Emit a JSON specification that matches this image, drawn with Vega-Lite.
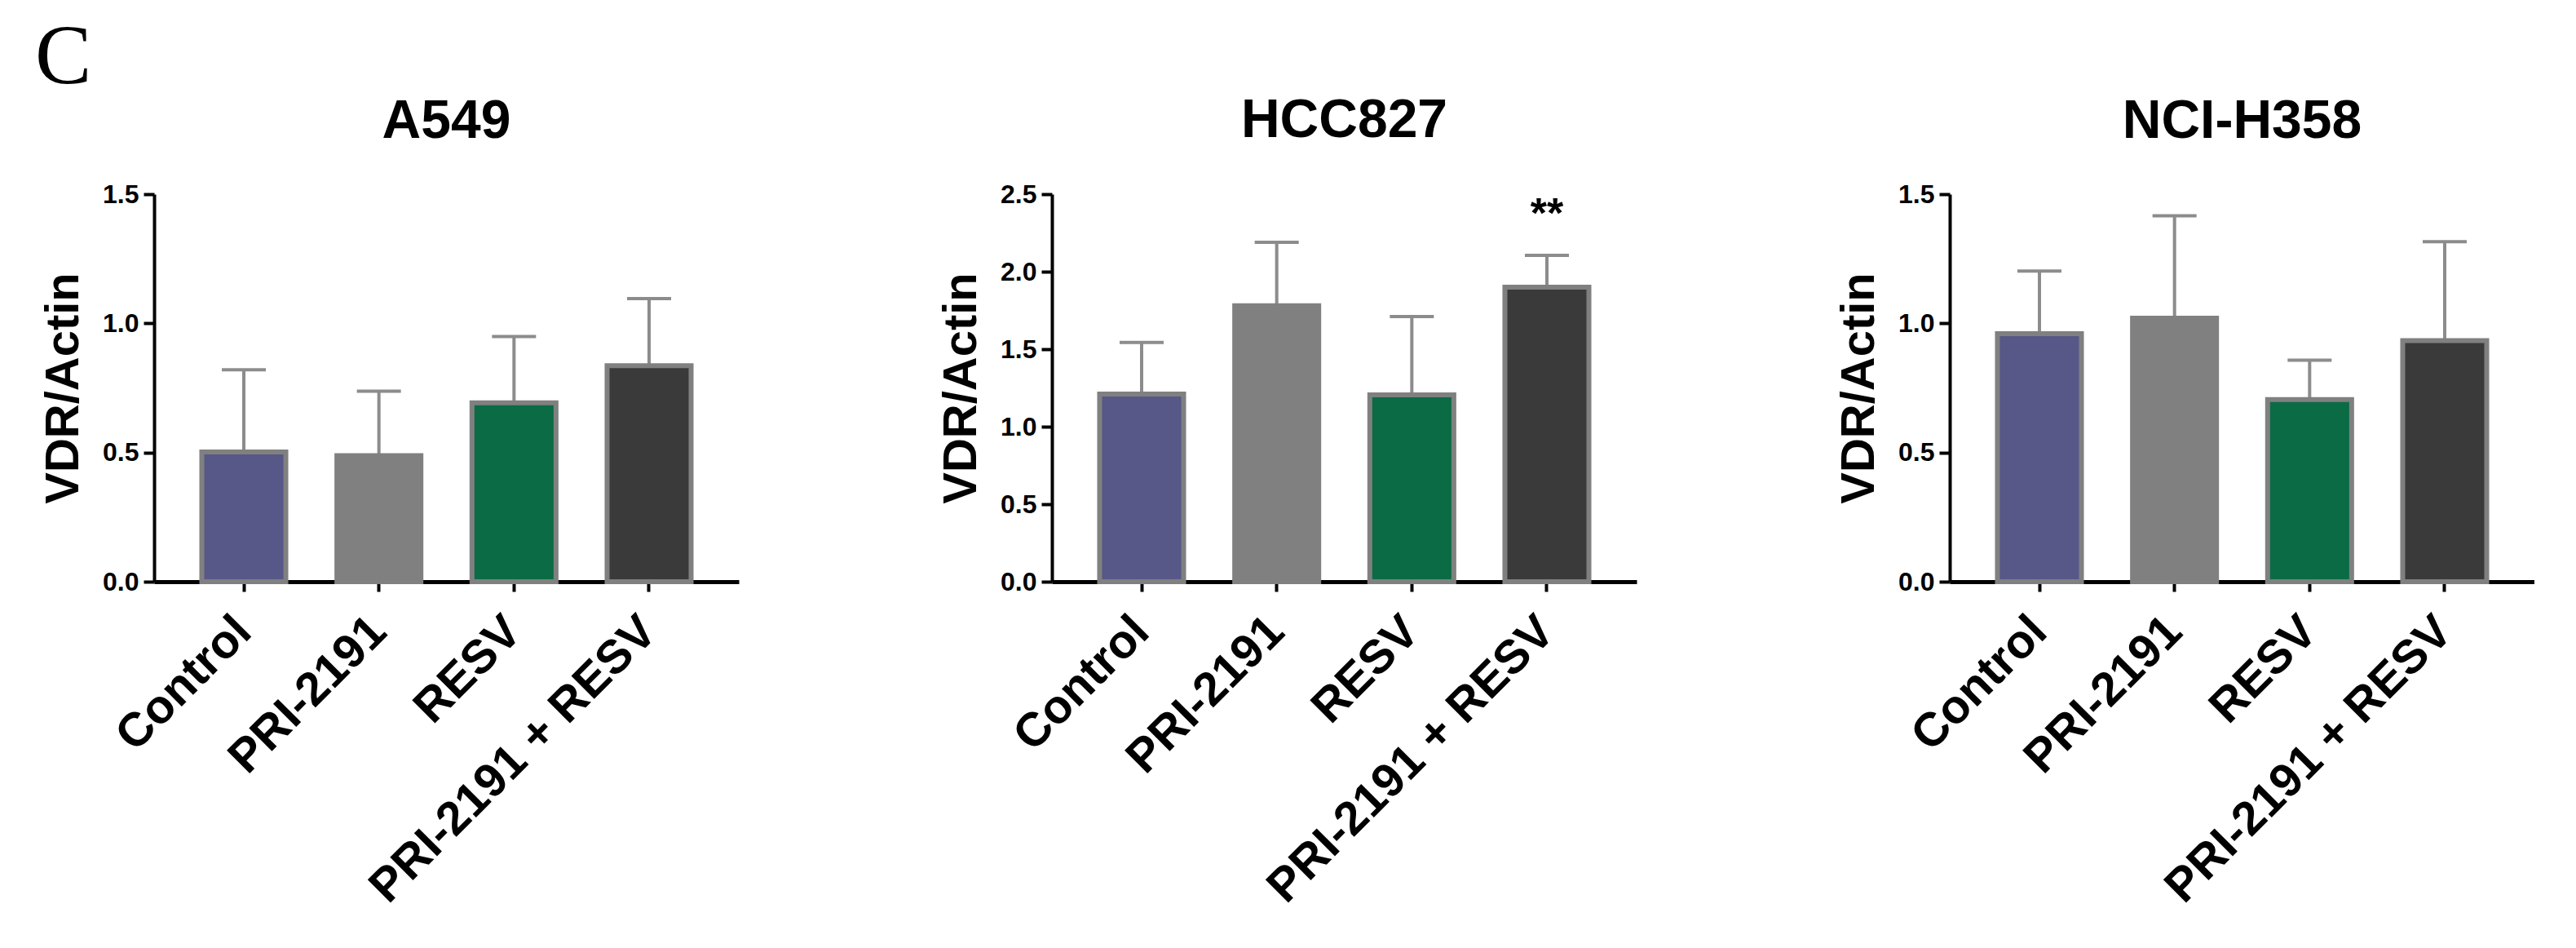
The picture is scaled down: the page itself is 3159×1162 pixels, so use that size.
{
  "$schema": "https://vega.github.io/schema/vega-lite/v6.json",
  "background": "white",
  "padding": {"left": 42, "top": 18, "right": 0, "bottom": 0},
  "title": {"text": "C", "font": "Liberation Serif", "fontSize": 104, "fontWeight": "normal", "color": "black", "anchor": "start", "frame": "bounds", "baseline": "alphabetic", "offset": -91, "dx": -6},
  "data": {"values": [
    {"cell": "A549", "group": "Control", "mean": 0.502, "upper": 0.82, "sig": ""},
    {"cell": "A549", "group": "PRI-2191", "mean": 0.488, "upper": 0.737, "sig": ""},
    {"cell": "A549", "group": "RESV", "mean": 0.692, "upper": 0.949, "sig": ""},
    {"cell": "A549", "group": "PRI-2191 + RESV", "mean": 0.836, "upper": 1.096, "sig": ""},
    {"cell": "HCC827", "group": "Control", "mean": 1.21, "upper": 1.543, "sig": ""},
    {"cell": "HCC827", "group": "PRI-2191", "mean": 1.78, "upper": 2.19, "sig": ""},
    {"cell": "HCC827", "group": "RESV", "mean": 1.205, "upper": 1.71, "sig": ""},
    {"cell": "HCC827", "group": "PRI-2191 + RESV", "mean": 1.90, "upper": 2.105, "sig": "**"},
    {"cell": "NCI-H358", "group": "Control", "mean": 0.96, "upper": 1.202, "sig": ""},
    {"cell": "NCI-H358", "group": "PRI-2191", "mean": 1.02, "upper": 1.416, "sig": ""},
    {"cell": "NCI-H358", "group": "RESV", "mean": 0.705, "upper": 0.857, "sig": ""},
    {"cell": "NCI-H358", "group": "PRI-2191 + RESV", "mean": 0.933, "upper": 1.316, "sig": ""}
  ]},
  "spacing": 384,
  "bounds": "flush",
  "config": {
    "view": {"stroke": null},
    "font": "Liberation Sans",
    "title": {"font": "Liberation Sans", "fontSize": 66, "fontWeight": "bold", "color": "black", "frame": "group", "baseline": "alphabetic", "offset": 39, "anchor": "middle"},
    "axisX": {"labelAngle": -45, "labelAlign": "right", "labelBaseline": "middle", "labelFontSize": 58, "labelFont": "Liberation Sans", "labelFontWeight": "bold", "labelColor": "black", "labelPadding": 40, "labelLimit": 2000, "labelOverlap": false, "tickSize": 12, "tickWidth": 4, "tickColor": "black", "domainWidth": 5, "domainColor": "black", "title": null, "zindex": 1},
    "axisY": {"labelFontSize": 32, "labelFont": "Liberation Sans", "labelFontWeight": "bold", "labelColor": "black", "labelPadding": 6, "tickSize": 13, "tickWidth": 4, "tickColor": "black", "domainWidth": 4, "domainColor": "black", "grid": false, "format": ".1f", "titleFont": "Liberation Sans", "titleFontSize": 58, "titleFontWeight": "bold", "titleColor": "black", "titleX": -94, "titleY": 237.5, "titleBaseline": "alphabetic", "titleAngle": -90, "titleAlign": "center", "zindex": 1}
  },
  "hconcat": [
    {
      "width": 717, "height": 475,
      "title": "A549",
      "transform": [{"filter": "datum.cell == 'A549'"}],
      "encoding": {"x": {"field": "group", "type": "nominal", "sort": ["Control", "PRI-2191", "RESV", "PRI-2191 + RESV"], "scale": {"paddingInner": 0.378, "paddingOuter": 0.353}, "axis": {"title": null}}},
      "layer": [
        {"mark": {"type": "rule", "color": "#8c8c8c", "strokeWidth": 4}, "encoding": {"y": {"field": "mean", "type": "quantitative", "title": "VDR/Actin", "scale": {"domain": [0, 1.5], "nice": false}, "axis": {"values": [0, 0.5, 1, 1.5]}}, "y2": {"field": "upper"}}},
        {"mark": {"type": "tick", "color": "#8c8c8c", "size": 54, "thickness": 4, "opacity": 1}, "encoding": {"y": {"field": "upper", "type": "quantitative", "title": "VDR/Actin"}}},
        {"mark": {"type": "bar", "stroke": "#808080", "strokeWidth": 6, "opacity": 1}, "encoding": {"y": {"field": "mean", "type": "quantitative", "title": "VDR/Actin"}, "color": {"field": "group", "type": "nominal", "scale": {"domain": ["Control", "PRI-2191", "RESV", "PRI-2191 + RESV"], "range": ["#575788", "#808080", "#0a6b45", "#3a3a3a"]}, "legend": null}}}
      ]
    },
    {
      "width": 717, "height": 475,
      "title": "HCC827",
      "transform": [{"filter": "datum.cell == 'HCC827'"}],
      "encoding": {"x": {"field": "group", "type": "nominal", "sort": ["Control", "PRI-2191", "RESV", "PRI-2191 + RESV"], "scale": {"paddingInner": 0.378, "paddingOuter": 0.353}, "axis": {"title": null}}},
      "layer": [
        {"mark": {"type": "rule", "color": "#8c8c8c", "strokeWidth": 4}, "encoding": {"y": {"field": "mean", "type": "quantitative", "title": "VDR/Actin", "scale": {"domain": [0, 2.5], "nice": false}, "axis": {"values": [0, 0.5, 1, 1.5, 2, 2.5]}}, "y2": {"field": "upper"}}},
        {"mark": {"type": "tick", "color": "#8c8c8c", "size": 54, "thickness": 4, "opacity": 1}, "encoding": {"y": {"field": "upper", "type": "quantitative", "title": "VDR/Actin"}}},
        {"mark": {"type": "bar", "stroke": "#808080", "strokeWidth": 6, "opacity": 1}, "encoding": {"y": {"field": "mean", "type": "quantitative", "title": "VDR/Actin"}, "color": {"field": "group", "type": "nominal", "scale": {"domain": ["Control", "PRI-2191", "RESV", "PRI-2191 + RESV"], "range": ["#575788", "#808080", "#0a6b45", "#3a3a3a"]}, "legend": null}}},
        {"mark": {"type": "text", "dy": -34, "baseline": "alphabetic", "fontSize": 52, "fontWeight": "bold", "font": "Liberation Sans", "color": "black"}, "encoding": {"y": {"field": "upper", "type": "quantitative", "title": "VDR/Actin"}, "text": {"field": "sig"}}}
      ]
    },
    {
      "width": 717, "height": 475,
      "title": "NCI-H358",
      "transform": [{"filter": "datum.cell == 'NCI-H358'"}],
      "encoding": {"x": {"field": "group", "type": "nominal", "sort": ["Control", "PRI-2191", "RESV", "PRI-2191 + RESV"], "scale": {"paddingInner": 0.378, "paddingOuter": 0.353}, "axis": {"title": null}}},
      "layer": [
        {"mark": {"type": "rule", "color": "#8c8c8c", "strokeWidth": 4}, "encoding": {"y": {"field": "mean", "type": "quantitative", "title": "VDR/Actin", "scale": {"domain": [0, 1.5], "nice": false}, "axis": {"values": [0, 0.5, 1, 1.5]}}, "y2": {"field": "upper"}}},
        {"mark": {"type": "tick", "color": "#8c8c8c", "size": 54, "thickness": 4, "opacity": 1}, "encoding": {"y": {"field": "upper", "type": "quantitative", "title": "VDR/Actin"}}},
        {"mark": {"type": "bar", "stroke": "#808080", "strokeWidth": 6, "opacity": 1}, "encoding": {"y": {"field": "mean", "type": "quantitative", "title": "VDR/Actin"}, "color": {"field": "group", "type": "nominal", "scale": {"domain": ["Control", "PRI-2191", "RESV", "PRI-2191 + RESV"], "range": ["#575788", "#808080", "#0a6b45", "#3a3a3a"]}, "legend": null}}}
      ]
    }
  ]
}
